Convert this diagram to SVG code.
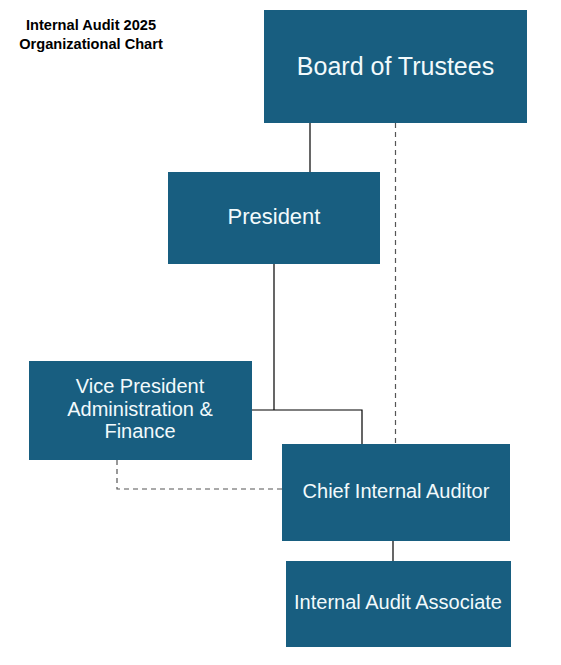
<svg xmlns="http://www.w3.org/2000/svg" width="561" height="665" viewBox="0 0 561 665">
<style>
.box{fill:#185E80}
.t{fill:#F2FAFC;font-family:"Liberation Sans",Arial,sans-serif;text-anchor:middle}
.title{fill:#000;font-family:"Liberation Sans",Arial,sans-serif;font-weight:bold;font-size:14.6px;text-anchor:middle}
.solid{stroke:#000;stroke-width:1.2;fill:none}
.dash{stroke:#555;stroke-width:1.2;fill:none;stroke-dasharray:5,4}
</style>
<rect width="561" height="665" fill="#fff"/>
<g id="title">
<text class="title" x="91" y="30">Internal Audit 2025</text>
<text class="title" x="91" y="49">Organizational Chart</text>
</g>
<g id="connectors">
<line class="solid" x1="310" y1="123" x2="310" y2="172"/>
<line class="dash" x1="395.5" y1="123" x2="395.5" y2="444"/>
<polyline class="solid" points="274,264 274,410"/>
<polyline class="solid" points="252,410 362,410 362,444"/>
<polyline class="dash" points="117,460 117,489 282,489"/>
<line class="solid" x1="393" y1="541" x2="393" y2="561"/>
</g>
<g id="board">
<rect class="box" x="264" y="10" width="263" height="113"/>
<text class="t" x="395.5" y="75" font-size="25">Board of Trustees</text>
</g>
<g id="president">
<rect class="box" x="168" y="172" width="212" height="92"/>
<text class="t" x="274" y="224" font-size="22">President</text>
</g>
<g id="vp">
<rect class="box" x="29" y="361" width="223" height="99"/>
<text class="t" x="140" y="393" font-size="20">Vice President</text>
<text class="t" x="140" y="416" font-size="20">Administration &amp;</text>
<text class="t" x="140" y="438" font-size="20">Finance</text>
</g>
<g id="cia">
<rect class="box" x="282" y="444" width="228" height="97"/>
<text class="t" x="396" y="498" font-size="20">Chief Internal Auditor</text>
</g>
<g id="iaa">
<rect class="box" x="286" y="561" width="225" height="86"/>
<text class="t" x="398" y="609" font-size="20">Internal Audit Associate</text>
</g>
</svg>
